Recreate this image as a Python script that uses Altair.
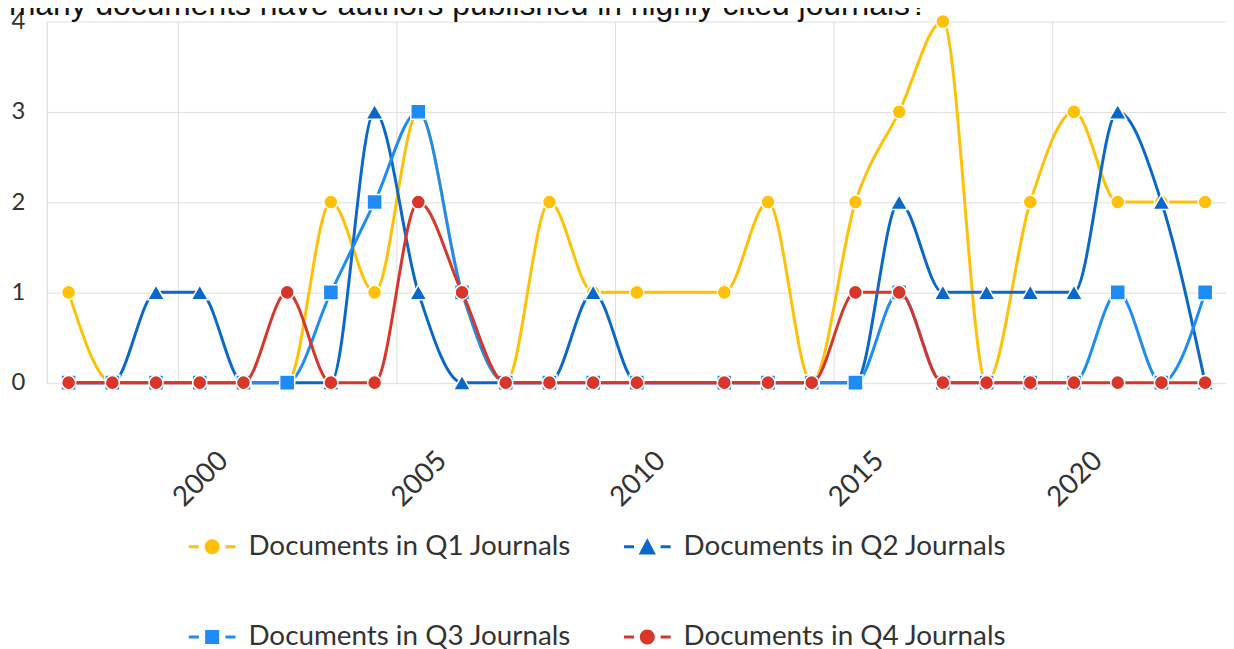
import altair as alt
import pandas as pd

# ---- data ----
years = [1997, 1998, 1999, 2000, 2001, 2002, 2003, 2004, 2005, 2006, 2007, 2008, 2009, 2010,
         2012, 2013, 2014, 2015, 2016, 2017, 2018, 2019, 2020, 2021, 2022, 2023]
q1 = [1, 0, 0, 0, 0, 0, 2, 1, 3, 1, 0, 2, 1, 1, 1, 2, 0, 2, 3, 4, 0, 2, 3, 2, 2, 2]
q2 = [0, 0, 1, 1, 0, 0, 0, 3, 1, 0, 0, 0, 1, 0, 0, 0, 0, 0, 2, 1, 1, 1, 1, 3, 2, 0]
q3 = [0, 0, 0, 0, 0, 0, 1, 2, 3, 1, 0, 0, 0, 0, 0, 0, 0, 0, 1, 0, 0, 0, 0, 1, 0, 1]
q4 = [0, 0, 0, 0, 0, 1, 0, 0, 2, 1, 0, 0, 0, 0, 0, 0, 0, 1, 1, 0, 0, 0, 0, 0, 0, 0]

series_names = ["Documents in Q1 Journals", "Documents in Q2 Journals",
                "Documents in Q3 Journals", "Documents in Q4 Journals"]
colors = ["#FFC107", "#0A68CC", "#1F8BF5", "#D9362A"]
shapes = ["circle", "triangle-up", "square", "circle"]
sizes = [200, 300, 230, 200]
x_tick_labels = [2000, 2005, 2010, 2015, 2020]
y_ticks = [0, 1, 2, 3, 4]
title_text = ["How many documents have authors published in highly cited journals?"]

# legend symbols: dash - marker - dash
legend_paths = [
    "M-1,-0.064H-0.57V0.064H-1Z M0.57,-0.064H1V0.064H0.57Z M0.32,0A0.32,0.32,0,1,1,-0.32,0A0.32,0.32,0,1,1,0.32,0Z",
    "M-1,-0.064H-0.57V0.064H-1Z M0.57,-0.064H1V0.064H0.57Z M0,-0.37L0.37,0.33L-0.37,0.33Z",
    "M-1,-0.064H-0.57V0.064H-1Z M0.57,-0.064H1V0.064H0.57Z M-0.3,-0.3H0.3V0.3H-0.3Z",
    "M-1,-0.064H-0.57V0.064H-1Z M0.57,-0.064H1V0.064H0.57Z M0.32,0A0.32,0.32,0,1,1,-0.32,0A0.32,0.32,0,1,1,0.32,0Z",
]

rows = []
for name, vals in zip(series_names, [q1, q2, q3, q4]):
    for yr, v in zip(years, vals):
        rows.append({"year": yr, "value": v, "series": name})
df = pd.DataFrame(rows)

FONT = "Lato"
GRID = "#dedede"
W = 1187
H = 363.5

x_enc = alt.X(
    "year:Q", title=None,
    scale=alt.Scale(domain=[1996.5, 1996.5 + W / 44.0], nice=False, zero=False),
    axis=alt.Axis(
        values=[v - 0.5 for v in x_tick_labels],
        labelExpr="format(datum.value + 0.5, 'd')",
        grid=True, gridColor=GRID, gridWidth=1,
        ticks=False, tickSize=0, domain=False,
        labelAngle=-45, labelAlign="center", labelBaseline="middle",
        labelPadding=97, labelOffset=23,
        labelFont=FONT, labelFontSize=28, labelColor="#333333",
        labelFlush=False, labelOverlap=False,
    ),
)
y_enc = alt.Y(
    "value:Q", title=None,
    scale=alt.Scale(domain=[0, 4], nice=False, zero=True),
    axis=alt.Axis(
        values=y_ticks, format="d",
        grid=True, gridColor=GRID, gridWidth=1,
        ticks=False, tickSize=0,
        domain=True, domainColor="#ccd6eb", domainWidth=1,
        labelPadding=22, labelFont=FONT, labelFontSize=24, labelColor="#333333",
    ),
)

layers = []
for name, col, shp, sz in zip(series_names, colors, shapes, sizes):
    sub = alt.Chart(df).transform_filter(alt.datum.series == name)
    layers.append(
        sub.mark_line(interpolate="monotone", strokeWidth=3, color=col).encode(x=x_enc, y=y_enc)
    )
    layers.append(
        sub.mark_point(filled=True, shape=shp, size=sz, fill=col, stroke="white",
                       strokeWidth=1.5, opacity=1).encode(x=x_enc, y=y_enc)
    )

leg = alt.Legend(
    title=None, orient="none", legendX=143, legendY=505, direction="horizontal",
    columns=2, columnPadding=52, rowPadding=53, padding=0,
    symbolSize=2209, symbolStrokeWidth=0, symbolOpacity=1,
    labelFont=FONT, labelFontSize=28, labelColor="#333333", labelOffset=13, labelLimit=0,
)
legend_layer = alt.Chart(df).transform_filter("false").mark_point(filled=True, opacity=1).encode(
    x=x_enc, y=y_enc,
    color=alt.Color("series:N", scale=alt.Scale(domain=series_names, range=colors), legend=leg),
    shape=alt.Shape("series:N", scale=alt.Scale(domain=series_names, range=legend_paths), legend=leg),
)

# chart title (partly cut off at the top-left, as in the reference)
title_layer = alt.Chart(pd.DataFrame({"t": title_text})).mark_text(
    align="left", baseline="alphabetic", font="Liberation Sans", fontSize=32,
    color="#111111", x=-111, y=-7,
).encode(text="t:N")

chart = alt.layer(*layers, legend_layer, title_layer).properties(
    width=W, height=H,
    autosize=alt.AutoSizeParams(type="none"),
    padding={"left": 39, "top": 11.5, "right": 0, "bottom": 266},
    background="white",
).configure_view(stroke=None)

chart.save("out.html", embed_options={"renderer": "svg", "actions": False})
